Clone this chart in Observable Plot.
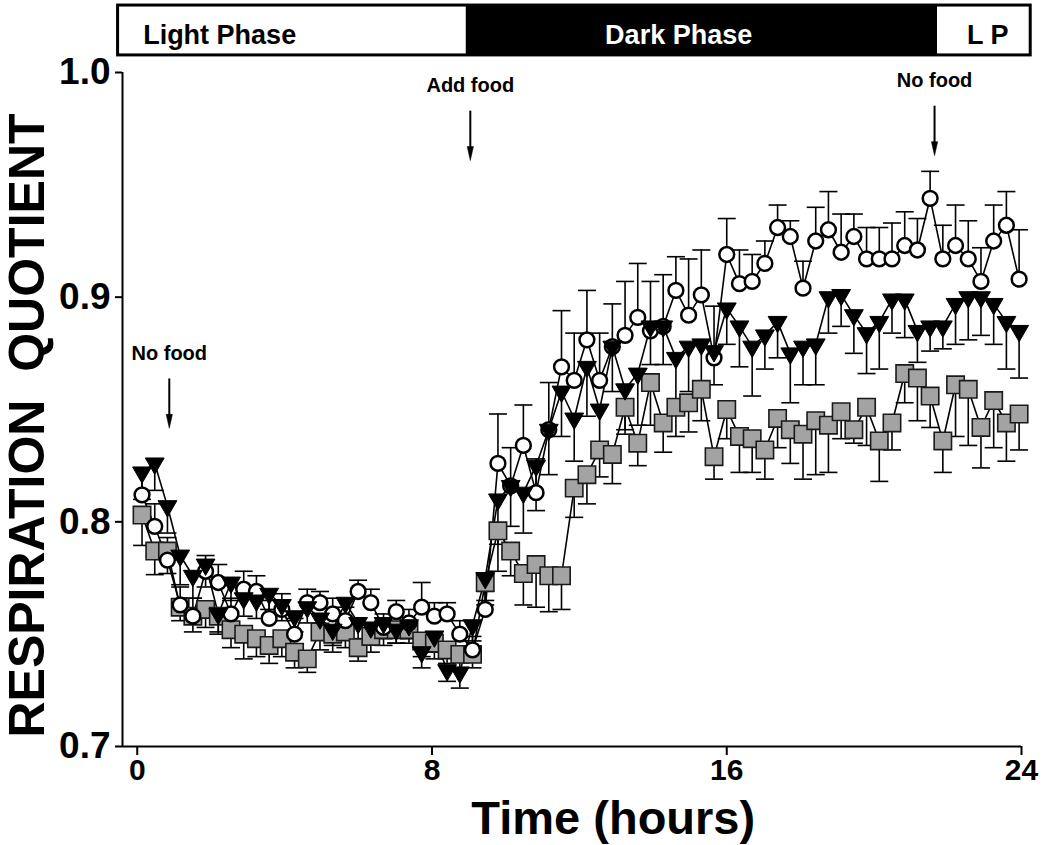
<!DOCTYPE html>
<html>
<head>
<meta charset="utf-8">
<script src="https://cdn.jsdelivr.net/npm/d3@7"></script>
<script src="https://cdn.jsdelivr.net/npm/@observablehq/plot@0.6"></script>
<style>
  body { margin: 0; background: #fff; }
  #chart svg { display: block; }
</style>
</head>
<body>
<div id="chart"></div>
<script>
// ---- data ----
const times = [0.13, 0.475, 0.82, 1.165, 1.51, 1.855, 2.2, 2.545, 2.89, 3.235,
  3.58, 3.925, 4.27, 4.615, 4.96, 5.305, 5.65, 5.995, 6.34, 6.685,
  7.03, 7.375, 7.72, 8.065, 8.41, 8.755, 9.1, 9.445, 9.79, 10.135,
  10.48, 10.825, 11.17, 11.515, 11.86, 12.205, 12.55, 12.895, 13.24, 13.585,
  13.93, 14.275, 14.62, 14.965, 15.31, 15.655, 16.0, 16.345, 16.69, 17.035,
  17.38, 17.725, 18.07, 18.415, 18.76, 19.105, 19.45, 19.795, 20.14, 20.485,
  20.83, 21.175, 21.52, 21.865, 22.21, 22.555, 22.9, 23.245, 23.59, 23.935];

const openCircle = [0.812, 0.798, 0.783, 0.763, 0.758, 0.778, 0.773, 0.759, 0.770, 0.769,
  0.757, 0.761, 0.750, 0.764, 0.764, 0.759, 0.756, 0.769, 0.764, 0.753,
  0.760, 0.755, 0.762, 0.758, 0.759, 0.750, 0.743, 0.761, 0.826, 0.816,
  0.834, 0.813, 0.841, 0.869, 0.863, 0.881, 0.863, 0.878, 0.883, 0.891,
  0.885, 0.887, 0.903, 0.892, 0.901, 0.873, 0.919, 0.906, 0.907, 0.915,
  0.931, 0.927, 0.904, 0.925, 0.930, 0.920, 0.927, 0.917, 0.917, 0.917,
  0.923, 0.921, 0.944, 0.917, 0.923, 0.917, 0.907, 0.925, 0.932, 0.908];
const openCircleErr = [0.012, 0.010, 0.010, 0.008, 0.008, 0.007, 0.008, 0.007, 0.008, 0.007,
  0.008, 0.007, 0.007, 0.006, 0.005, 0.007, 0.006, 0.005, 0.006, 0.006,
  0.005, 0.006, 0.011, 0.006, 0.005, 0.006, 0.006, 0.008, 0.022, 0.017,
  0.018, 0.015, 0.021, 0.025, 0.021, 0.022, 0.021, 0.019, 0.024, 0.024,
  0.022, 0.023, 0.015, 0.025, 0.020, 0.023, 0.016, 0.015, 0.012, 0.010,
  0.010, 0.007, 0.012, 0.015, 0.017, 0.017, 0.010, 0.014, 0.014, 0.016,
  0.015, 0.014, 0.012, 0.015, 0.018, 0.017, 0.015, 0.016, 0.015, 0.022];

const triangle = [0.822, 0.826, 0.807, 0.785, 0.776, 0.781, 0.759, 0.773, 0.766, 0.765,
  0.768, 0.763, 0.758, 0.762, 0.757, 0.752, 0.764, 0.755, 0.753, 0.755,
  0.752, 0.754, 0.742, 0.749, 0.734, 0.733, 0.754, 0.775, 0.810, 0.816,
  0.813, 0.825, 0.841, 0.858, 0.846, 0.869, 0.850, 0.878, 0.859, 0.866,
  0.887, 0.887, 0.873, 0.878, 0.879, 0.876, 0.895, 0.887, 0.878, 0.883,
  0.889, 0.875, 0.878, 0.879, 0.900, 0.901, 0.892, 0.884, 0.889, 0.899,
  0.899, 0.885, 0.887, 0.887, 0.897, 0.900, 0.900, 0.897, 0.889, 0.885];
const triangleErr = [0.012, 0.012, 0.012, 0.013, 0.010, 0.010, 0.008, 0.008, 0.008, 0.008,
  0.007, 0.007, 0.007, 0.007, 0.007, 0.007, 0.007, 0.007, 0.006, 0.007,
  0.006, 0.006, 0.007, 0.007, 0.005, 0.007, 0.007, 0.010, 0.020, 0.018,
  0.018, 0.020, 0.020, 0.020, 0.019, 0.022, 0.020, 0.020, 0.020, 0.023,
  0.017, 0.017, 0.020, 0.020, 0.020, 0.015, 0.016, 0.018, 0.022, 0.015,
  0.016, 0.022, 0.017, 0.018, 0.016, 0.014, 0.017, 0.018, 0.021, 0.015,
  0.017, 0.014, 0.011, 0.010, 0.018, 0.019, 0.017, 0.018, 0.021, 0.021];

const square = [0.803, 0.787, 0.787, 0.762, 0.758, 0.761, 0.758, 0.752, 0.750, 0.748,
  0.745, 0.748, 0.742, 0.739, 0.751, 0.750, 0.751, 0.744, 0.749, 0.752,
  0.752, 0.752, 0.747, 0.746, 0.743, 0.741, 0.741, 0.773, 0.796, 0.787,
  0.777, 0.781, 0.776, 0.776, 0.815, 0.821, 0.832, 0.830, 0.851, 0.835,
  0.862, 0.844, 0.851, 0.853, 0.859, 0.829, 0.850, 0.838, 0.837, 0.832,
  0.846, 0.841, 0.839, 0.845, 0.843, 0.849, 0.841, 0.851, 0.836, 0.844,
  0.866, 0.864, 0.856, 0.836, 0.861, 0.859, 0.842, 0.854, 0.844, 0.848];
const squareErr = [0.0135, 0.0105, 0.010, 0.006, 0.007, 0.008, 0.008, 0.008, 0.011, 0.008,
  0.008, 0.008, 0.007, 0.006, 0.008, 0.008, 0.007, 0.006, 0.007, 0.007,
  0.006, 0.006, 0.007, 0.007, 0.006, 0.006, 0.006, 0.010, 0.018, 0.011,
  0.014, 0.019, 0.016, 0.015, 0.013, 0.013, 0.012, 0.013, 0.010, 0.010,
  0.019, 0.013, 0.013, 0.013, 0.014, 0.010, 0.013, 0.016, 0.015, 0.013,
  0.013, 0.015, 0.020, 0.024, 0.021, 0.012, 0.006, 0.017, 0.018, 0.012,
  0.013, 0.019, 0.014, 0.014, 0.023, 0.025, 0.018, 0.021, 0.017, 0.016];

const xTicks = [0, 8, 16, 24];
const yTicks = [0.7, 0.8, 0.9, 1.0];

// light/dark phases (hours)
const phaseNames = ["Light Phase", "Dark Phase", "L P"];
const phaseStart = [-0.52, 8.93, 21.72];
const phaseEnd = [8.93, 21.72, 24.25];
const phaseDark = [false, true, false];

// feeding events: label, time (hours), RQ level the arrow points at
const eventLabels = ["No food", "Add food", "No food"];
const eventTimes = [0.87, 9.04, 21.64];
const eventLevels = [0.8416, 0.9608, 0.963];

// ---- build tables ----
const circRows = times.map((t, i) => ({t, v: openCircle[i], end: openCircle[i] + openCircleErr[i]}));
const triRows = times.map((t, i) => ({t, v: triangle[i], end: triangle[i] - triangleErr[i]}));
const sqRows = times.map((t, i) => ({t, v: square[i], end: square[i] - squareErr[i]}));
const phases = phaseNames.map((name, i) => ({
  name, start: phaseStart[i], end: phaseEnd[i], dark: phaseDark[i]
}));
const events = eventLabels.map((label, i) => ({label, time: eventTimes[i], level: eventLevels[i]}));

// ---- custom symbols ----
const capSymbol = {
  draw(ctx, size) {
    const w = Math.sqrt(size / Math.PI);
    ctx.moveTo(-w, 0); ctx.lineTo(w, 0);
  }
};
const downTriangle = {
  draw(ctx, size) {
    const y = Math.sqrt(size / (Math.sqrt(3) * 3));
    ctx.moveTo(0, 2 * y);
    ctx.lineTo(-Math.sqrt(3) * y, -y);
    ctx.lineTo(Math.sqrt(3) * y, -y);
    ctx.closePath();
  }
};
const arrowHead = {
  draw(ctx, size) {
    const s = Math.sqrt(size / Math.PI);
    ctx.moveTo(0, 0);
    ctx.lineTo(-0.45 * s, -2 * s);
    ctx.lineTo(0.45 * s, -2 * s);
    ctx.closePath();
  }
};

const bandBottom = 1.0076, bandTop = 1.0298, bandText = 1.0165;
const lw = 1.6;

const plot = Plot.plot({
  width: 1050,
  height: 845,
  marginLeft: 122,
  marginRight: 29,
  marginTop: 72,
  marginBottom: 99,
  style: {fontFamily: "'Liberation Sans', Arial, sans-serif", fontWeight: "bold", background: "white", overflow: "visible"},
  x: {domain: [-0.4, 24]},
  y: {domain: [0.7, 1.0]},
  marks: [
    // phase band
    Plot.rect(phases.filter(d => !d.dark), {x1: "start", x2: "end", y1: bandBottom, y2: bandTop, fill: "white"}),
    Plot.rect(phases.filter(d => d.dark), {x1: "start", x2: "end", y1: bandBottom, y2: bandTop, fill: "black"}),
    Plot.rect([phases[0]], {x1: phases[0].start, x2: phases[phases.length - 1].end, y1: bandBottom, y2: bandTop, fill: "none", stroke: "black", strokeWidth: 3}),
    Plot.text(phases.slice(0, 1), {x: d => d.start + 0.68, y: bandText, text: "name", textAnchor: "start", fontSize: 27, fill: "black"}),
    Plot.text(phases.slice(1, 2), {x: d => (d.start + d.end) / 2 - 0.63, y: bandText, text: "name", fontSize: 27, fill: "white"}),
    Plot.text(phases.slice(2, 3), {x: d => (d.start + d.end) / 2 + 0.1, y: bandText, text: "name", fontSize: 27, fill: "black"}),

    // axes
    Plot.ruleY([0.7], {stroke: "black", strokeWidth: 2}),
    Plot.ruleX([-0.4], {y1: 0.7, y2: 1.0, stroke: "black", strokeWidth: 2}),
    Plot.axisY(yTicks, {tickFormat: d3.format(".1f"), fontSize: 37, tickSize: 7, tickPadding: 5, strokeWidth: 2, label: null}),
    Plot.axisX(xTicks, {fontSize: 30, tickSize: 9, tickPadding: 3, strokeWidth: 2, label: null}),
    Plot.text(["Time (hours)"], {x: 12.92, y: 0.7, dy: 72, text: d => d, fontSize: 47, lineAnchor: "middle"}),
    Plot.text(["RESPIRATION\u00A0\u00A0QUOTIENT"], {frameAnchor: "left", dx: -95, dy: 16, rotate: -90, textAnchor: "middle", lineAnchor: "middle", text: d => d, fontSize: 50}),

    // error bars
    Plot.ruleX(sqRows, {x: "t", y1: "v", y2: "end", stroke: "black", strokeWidth: lw}),
    Plot.dot(sqRows, {x: "t", y: "end", symbol: capSymbol, r: 9, fill: "none", stroke: "black", strokeWidth: lw}),
    Plot.ruleX(circRows, {x: "t", y1: "v", y2: "end", stroke: "black", strokeWidth: lw}),
    Plot.dot(circRows, {x: "t", y: "end", symbol: capSymbol, r: 9, fill: "none", stroke: "black", strokeWidth: lw}),
    Plot.ruleX(triRows, {x: "t", y1: "v", y2: "end", stroke: "black", strokeWidth: lw}),
    Plot.dot(triRows, {x: "t", y: "end", symbol: capSymbol, r: 9, fill: "none", stroke: "black", strokeWidth: lw}),

    // lines
    Plot.line(sqRows, {x: "t", y: "v", stroke: "black", strokeWidth: lw}),
    Plot.line(circRows, {x: "t", y: "v", stroke: "black", strokeWidth: lw}),
    Plot.line(triRows, {x: "t", y: "v", stroke: "black", strokeWidth: lw}),

    // markers
    Plot.dot(sqRows, {x: "t", y: "v", symbol: "square", r: 9.8, fill: "#a3a3a3", stroke: "#1a1a1a", strokeWidth: 1.6}),
    Plot.dot(circRows, {x: "t", y: "v", symbol: "circle", r: 7.4, fill: "white", stroke: "black", strokeWidth: 2.5}),
    Plot.dot(triRows, {x: "t", y: "v", symbol: downTriangle, r: 7, fill: "black", stroke: "black", strokeWidth: 1}),

    // feeding annotations
    Plot.ruleX(events, {x: "time", y1: d => d.level + 0.004, y2: d => d.level + 0.022, stroke: "black", strokeWidth: 2}),
    Plot.dot(events, {x: "time", y: "level", symbol: arrowHead, r: 7, fill: "black", stroke: "black", strokeWidth: 0.5}),
    Plot.text(events, {x: "time", y: d => d.level + 0.0335, text: "label", fontSize: 20, fill: "black"})
  ]
});

document.getElementById("chart").appendChild(plot);
</script>
</body>
</html>
